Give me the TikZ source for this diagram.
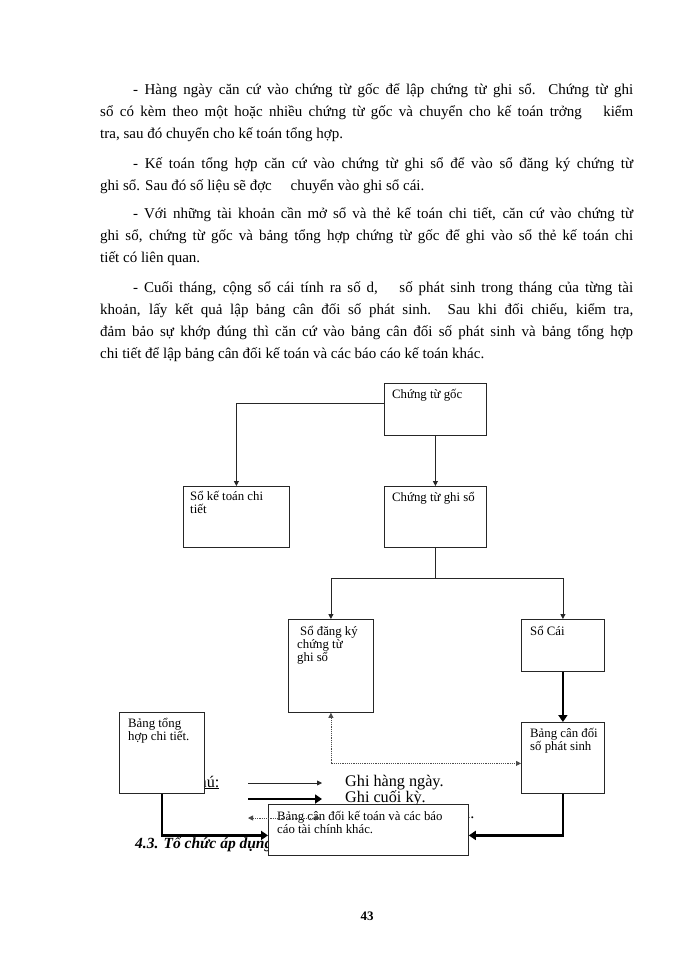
\documentclass[tikz,border=0pt]{standalone}
\usepackage{fontspec}
\setmainfont{Liberation Serif}
\usetikzlibrary{arrows.meta}
\tikzset{
  bodytxt/.style={anchor=base west, inner sep=0pt, font=\fontsize{15}{18}\selectfont},
  boxnode/.style={draw=black!85, line width=0.8pt, fill=white, inner sep=0pt, anchor=north west},
  boxtxt/.style={anchor=base west, inner sep=0pt, align=left, font=\fontsize{12.8}{13}\selectfont},
  legtxt/.style={anchor=base west, inner sep=0pt, font=\fontsize{16.2}{17}\selectfont},
  thinarrow/.style={draw=black!85, line width=0.8pt, -{Triangle[length=5pt,width=5pt]}},
  thickarrow/.style={draw=black, line width=2.6pt, -{Triangle[length=7pt,width=9pt]}},
  dotarrow/.style={draw=black!70, line width=0.8pt, dash pattern=on 1.2pt off 1pt, {Triangle[length=5pt,width=5pt]}-{Triangle[length=5pt,width=5pt]}}
}
\begin{document}
\begin{tikzpicture}[x=1pt,y=-1pt]
\useasboundingbox (0,0) rectangle (700,960);
\fill[white] (0,0) rectangle (700,960);

% body text
\node[bodytxt] (p1a) at (133,95) {\makebox[500pt][s]{- Hàng ngày căn cứ vào chứng từ gốc để lập chứng từ ghi sổ. Chứng từ ghi}};
\node[bodytxt] (p1b) at (100,117) {\makebox[533pt][s]{sổ có kèm theo một hoặc nhiều chứng từ gốc và chuyển cho kế toán trởng\hspace{1em} kiểm}};
\node[bodytxt] (p1c) at (100,139) {tra, sau đó chuyển cho kế toán tổng hợp.};

\node[bodytxt] (p2a) at (133,168) {\makebox[500pt][s]{- Kế toán tổng hợp căn cứ vào chứng từ ghi sổ để vào sổ đăng ký chứng từ}};
\node[bodytxt] (p2b) at (100,190) {ghi sổ. Sau đó số liệu sẽ đợc\hspace{1em} chuyển vào ghi sổ cái.};

\node[bodytxt] (p3a) at (133,218) {\makebox[500pt][s]{- Với những tài khoản cần mở sổ và thẻ kế toán chi tiết, căn cứ vào chứng từ}};
\node[bodytxt] (p3b) at (100,240) {\makebox[533pt][s]{ghi sổ, chứng từ gốc và bảng tổng hợp chứng từ gốc để ghi vào sổ thẻ kế toán chi}};
\node[bodytxt] (p3c) at (100,262) {tiết có liên quan.};

\node[bodytxt] (p4a) at (133,292) {\makebox[500pt][s]{- Cuối tháng, cộng sổ cái tính ra số d,\hspace{1em} số phát sinh trong tháng của từng tài}};
\node[bodytxt] (p4b) at (100,314) {\makebox[533pt][s]{khoản, lấy kết quả lập bảng cân đối số phát sinh. Sau khi đối chiếu, kiểm tra,}};
\node[bodytxt] (p4c) at (100,336) {\makebox[533pt][s]{đảm bảo sự khớp đúng thì căn cứ vào bảng cân đối số phát sinh và bảng tổng hợp}};
\node[bodytxt] (p4d) at (100,358) {chi tiết để lập bảng cân đối kế toán và các báo cáo kế toán khác.};

% legend texts and heading (partly hidden behind boxes)
\node[legtxt] (gchu) at (163,787) {\underline{Ghi chú:}};
\node[legtxt] (lg1) at (345,786) {Ghi hàng ngày.};
\node[legtxt] (lg2) at (345,802.5) {Ghi cuối kỳ.};
\node[legtxt] (lg3) at (345,818) {Đối chiếu, kiểm tra.};
\node[anchor=base west, inner sep=0pt, font=\fontsize{15.5}{16}\selectfont\bfseries\itshape] (head) at (135,848) {4.3. Tổ chức áp dụng};

\coordinate (a1s) at (248,783); \coordinate (a1e) at (322,783);
\coordinate (a2s) at (248,799); \coordinate (a2e) at (322,799);
\coordinate (a3s) at (248,818); \coordinate (a3e) at (320,818);
\draw[thinarrow] (a1s) -- (a1e);
\draw[thickarrow] (a2s) -- (a2e);

% boxes
\node[boxnode, minimum width=102pt, minimum height=52pt] (goc) at (384,383) {};
\node[boxnode, minimum width=102pt, minimum height=61pt] (ghiso) at (384,486) {};
\node[boxnode, minimum width=106pt, minimum height=61pt] (ktct) at (183,486) {};
\node[boxnode, minimum width=85pt, minimum height=93pt] (dangky) at (288,619) {};
\node[boxnode, minimum width=83pt, minimum height=52pt] (socai) at (521,619) {};
\node[boxnode, minimum width=83pt, minimum height=71pt] (cdps) at (521,722) {};
\node[boxnode, minimum width=85pt, minimum height=81pt] (thct) at (119,712) {};
\node[boxnode, minimum width=200pt, minimum height=51pt] (bcdkt) at (268,804) {};

% box texts (base = baseline of last line)
\node[boxtxt] (tgoc) at (392,398) {Chứng từ gốc};
\node[boxtxt] (tghiso) at (392,501) {Chứng từ ghi sổ};
\node[boxtxt] (tktct) at (190,513) {Sổ kế toán chi\\tiết};
\node[boxtxt] (tdangky) at (297,661) {\hspace{3pt}Sổ đăng ký\\chứng từ\\ghi sổ};
\node[boxtxt] (tsocai) at (530,635) {Sổ Cái};
\node[boxtxt] (tcdps) at (530,750) {Bảng cân đối\\số phát sinh};
\node[boxtxt] (tthct) at (128,740) {Bảng tổng\\hợp chi tiết.};
\node[boxtxt] (tbcdkt) at (277,833) {Bảng cân đối kế toán và các báo\\cáo tài chính khác.};

% connectors
\draw[thinarrow] ([yshift=6pt]goc.west) -| (ktct.north);
\draw[thinarrow] (goc.south) -- (ghiso.north);
\coordinate (j) at (435.5,578);
\draw[draw=black!85, line width=0.8pt] (ghiso.south) -- (j);
\draw[thinarrow] (j) -| (dangky.north);
\draw[thinarrow] (j) -| (socai.north);
\draw[thickarrow] (socai.south) -- (cdps.north);
\draw[thickarrow] (cdps.south) |- ([yshift=-5.5pt]bcdkt.east);
\draw[thickarrow] (thct.south) |- ([yshift=-5.5pt]bcdkt.west);
\draw[dotarrow] (dangky.south) |- ([yshift=-5.5pt]cdps.west);
\draw[dotarrow] (a3s) -- (a3e);

% page number
\node[anchor=base, inner sep=0pt, font=\fontsize{13}{14}\selectfont\bfseries] (pg) at (367,920) {43};
\end{tikzpicture}
\end{document}
